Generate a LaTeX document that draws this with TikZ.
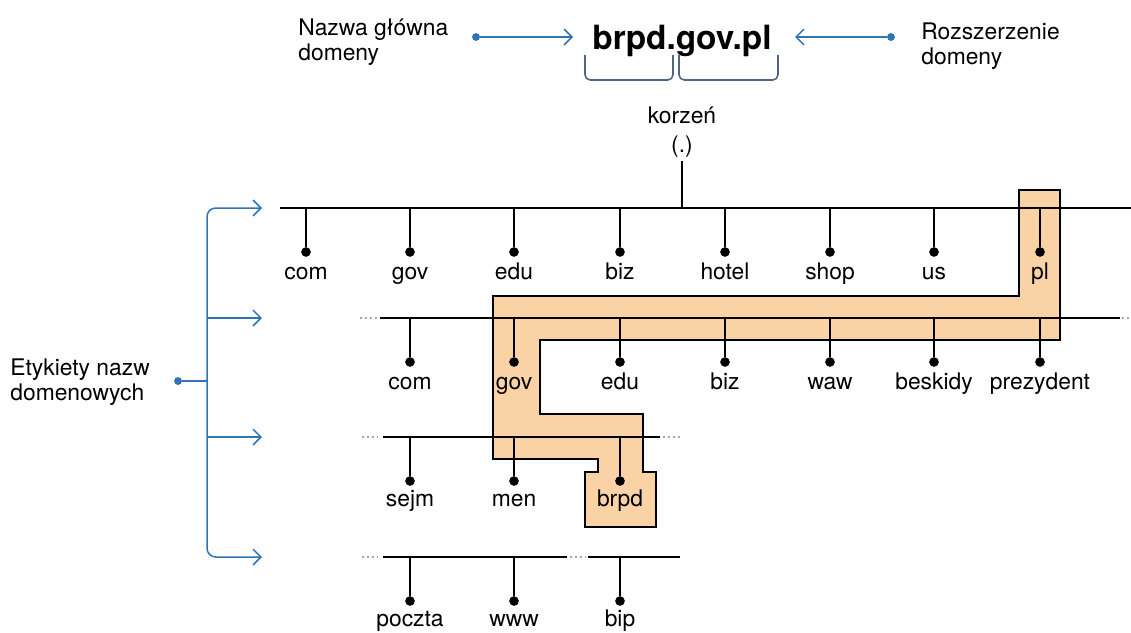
\documentclass[tikz,border=0pt]{standalone}
\usepackage{fontspec}
\setmainfont{TeX Gyre Heros}
\usetikzlibrary{positioning,calc,arrows.meta}
\definecolor{DNSblue}{HTML}{2F74B5}
\definecolor{DNSslate}{HTML}{4E6488}
\definecolor{DNSpath}{HTML}{F9D3A6}

\tikzset{
  lbl/.style={inner sep=0pt,anchor=base,font=\fontsize{13}{15}\selectfont},
  txt/.style={inner sep=0pt,align=left,font=\fontsize{13}{14.5}\selectfont},
  tdot/.style={circle,fill=black,inner sep=0pt,minimum size=5.5pt},
  bdot/.style={circle,fill=DNSblue,inner sep=0pt,minimum size=4.5pt},
  tline/.style={line width=0.85pt},
  moredots/.style={gray!70,line width=1pt,dash pattern=on 1.2pt off 1.6pt},
  bluearrow/.style={DNSblue,line width=0.85pt,-{Straight Barb[length=4.5pt,width=9pt]}},
  brack/.style={DNSslate,line width=0.9pt,rounded corners=3pt}
}

\begin{document}
\begin{tikzpicture}[x=0.02cm,y=-0.02cm]
  \useasboundingbox (0,0) rectangle (1131,632);

  % domain name on top
  \node[inner sep=3pt,font=\fontsize{19}{22}\selectfont\bfseries] (dom) at (682,41) {brpd.gov.pl};
  \node[txt,anchor=west] (main) at (298,42) {Nazwa główna\\domeny};
  \node[txt,anchor=west] (ext) at (921,46) {Rozszerzenie\\domeny};
  \node[bdot] (mdot) at (476,37) {};
  \node[bdot] (edot) at (891,37) {};
  \coordinate (mend) at (573,37);
  \coordinate (eend) at (795,37);
  \draw[bluearrow] (mdot) -- (mend);
  \draw[bluearrow] (edot) -- (eend);
  \draw[brack] (585,55) -- (585,80) -- (673,80) -- (673,55);
  \draw[brack] (679,55) -- (679,80) -- (778,80) -- (778,55);

  % highlighted path pl -> gov -> brpd
  \draw[fill=DNSpath,line width=1.1pt] (1019,190) -- (1060,190) -- (1060,340) -- (540,340)
    -- (540,414) -- (643,414) -- (643,472) -- (656,472) -- (656,527) -- (585,527)
    -- (585,472) -- (598,472) -- (598,459) -- (493,459) -- (493,296) -- (1019,296) -- cycle;

  % root
  \node[inner sep=2pt,align=center,font=\fontsize{13}{15}\selectfont] (root) at (682,132) {korzeń\\[1.5pt](.)};

  % level lines
  \coordinate (L1) at (280,208);
  \coordinate (L2) at (380,318);
  \coordinate (L3) at (383,437);
  \coordinate (L4) at (383,557);
  \draw[tline] (root.south) -- (root.south |- L1);
  \draw[tline] (L1) -- (1131,208);
  \draw[tline] (L2) -- (1120,318);
  \draw[moredots] (360,318) -- (377,318);
  \draw[moredots] (1122,318) -- (1131,318);
  \draw[tline] (L3) -- (660,437);
  \draw[moredots] (362,437) -- (378,437);
  \draw[moredots] (663,437) -- (680,437);
  \draw[tline] (L4) -- (567,557);
  \draw[tline] (588,557) -- (680,557);
  \draw[moredots] (362,557) -- (378,557);
  \draw[moredots] (570,557) -- (586,557);

  % labels
  \foreach \x/\t [count=\i] in {306/com,410/gov,514/edu,620/biz,725/hotel,830/shop,934/us,1040/pl}{
    \node[lbl] (a\i) at (\x,279) {\t};
    \node[tdot] (ad\i) at (\x,252) {};
    \draw[tline] (ad\i) -- (ad\i |- L1);
  }
  \foreach \x/\t [count=\i] in {410/com,514/gov,620/edu,725/biz,830/waw,934/beskidy,1040/prezydent}{
    \node[lbl] (b\i) at (\x,389) {\t};
    \node[tdot] (bd\i) at (\x,362) {};
    \draw[tline] (bd\i) -- (bd\i |- L2);
  }
  \foreach \x/\t [count=\i] in {410/sejm,514/men,620/brpd}{
    \node[lbl] (c\i) at (\x,506) {\t};
    \node[tdot] (cd\i) at (\x,481) {};
    \draw[tline] (cd\i) -- (cd\i |- L3);
  }
  \foreach \x/\t [count=\i] in {410/poczta,514/www,620/bip}{
    \node[lbl] (d\i) at (\x,626) {\t};
    \node[tdot] (dd\i) at (\x,601) {};
    \draw[tline] (dd\i) -- (dd\i |- L4);
  }

  % labels of the levels
  \node[txt,anchor=west] (lab) at (10,382) {Etykiety nazw\\domenowych};
  \node[bdot] (ldot) at (178,381) {};
  \coordinate (fork) at (207,381);
  \coordinate (t1) at (262,208);
  \coordinate (t2) at (262,318);
  \coordinate (t3) at (262,437);
  \coordinate (t4) at (262,557);
  \draw[DNSblue,line width=0.85pt] (ldot) -- (fork);
  \draw[bluearrow,rounded corners=5pt] (fork) |- (t1);
  \draw[bluearrow,rounded corners=5pt] (fork) |- (t4);
  \draw[bluearrow] (fork |- t2) -- (t2);
  \draw[bluearrow] (fork |- t3) -- (t3);
\end{tikzpicture}
\end{document}
